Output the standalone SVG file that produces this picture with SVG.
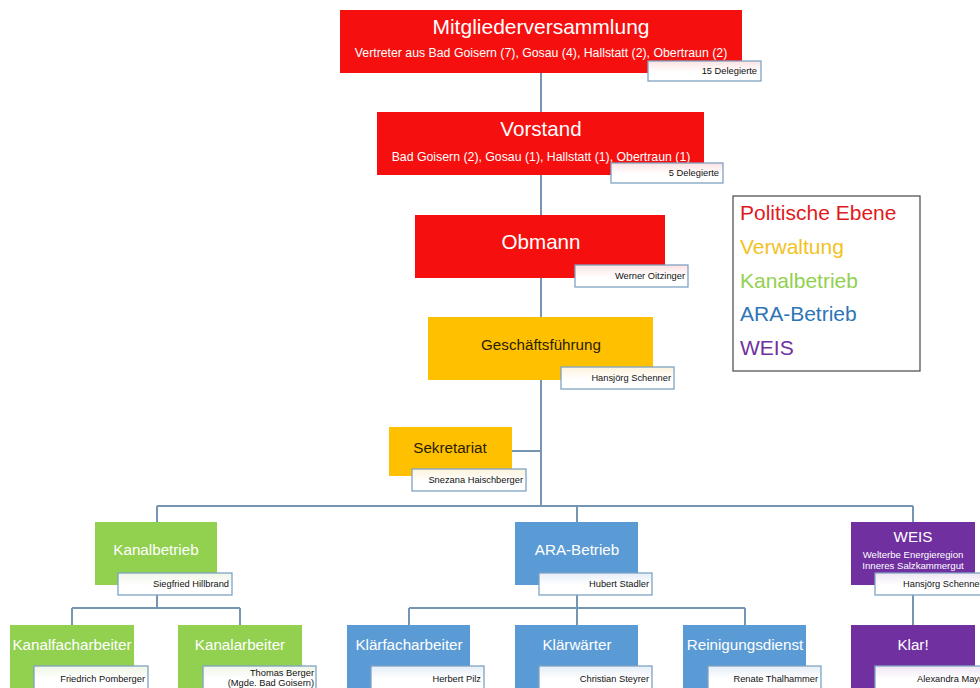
<svg xmlns="http://www.w3.org/2000/svg" width="980" height="688" viewBox="0 0 980 688">
<defs>
<linearGradient id="gR" x1="0" y1="0" x2="0" y2="1"><stop offset="0" stop-color="#fde2e2"/><stop offset="0.55" stop-color="#fff"/></linearGradient>
<linearGradient id="gY" x1="0" y1="0" x2="0" y2="1"><stop offset="0" stop-color="#fdf3dc"/><stop offset="0.55" stop-color="#fff"/></linearGradient>
<linearGradient id="gG" x1="0" y1="0" x2="0" y2="1"><stop offset="0" stop-color="#eef6e6"/><stop offset="0.55" stop-color="#fff"/></linearGradient>
<linearGradient id="gB" x1="0" y1="0" x2="0" y2="1"><stop offset="0" stop-color="#e6eef8"/><stop offset="0.55" stop-color="#fff"/></linearGradient>
<linearGradient id="gP" x1="0" y1="0" x2="0" y2="1"><stop offset="0" stop-color="#eee6f3"/><stop offset="0.55" stop-color="#fff"/></linearGradient>
</defs>
<style>
text{font-family:"Liberation Sans",Arial,sans-serif}
.red{fill:#f50f0f}
.yel{fill:#ffc000}
.grn{fill:#92d050}
.blu{fill:#5b9bd5}
.pur{fill:#7030a0}
.lbl{stroke:#7fa3c3;stroke-width:1.3}
.lt{font-size:9.3px;fill:#111;text-anchor:end}
.t{fill:#fff;text-anchor:middle}
.big{font-size:20.6px}
.mid{font-size:15.2px}
.sub{font-size:12.3px}
.conn{stroke:#7496b4;stroke-width:2;fill:none}
.leg{font-size:21px}
</style>
<rect width="980" height="688" fill="#fff"/>
<g id="connectors">
<path class="conn" d="M541 73V112M541 175V215M541 278V317M541 380V506M512 451H541M157 506H913M157 506V522M577 506V522M913 506V522"/>
<path class="conn" d="M157 595V608M72 608H240M72 608V625M240 608V625"/>
<path class="conn" d="M577 595V608M409 608H745M409 608V625M577 608V625M745 608V625"/>
<path class="conn" d="M913 595V625"/>
</g>
<g id="mitgliederversammlung">
<rect class="red" x="340" y="10" width="402" height="63"/>
<text class="t" x="541" y="34" style="font-size:21px">Mitgliederversammlung</text>
<text class="t sub" x="541" y="57">Vertreter aus Bad Goisern (7), Gosau (4), Hallstatt (2), Obertraun (2)</text>
<rect class="lbl" x="648" y="61" width="113" height="20" fill="url(#gR)"/>
<text class="lt" x="757" y="74">15 Delegierte</text>
</g>
<g id="vorstand">
<rect class="red" x="377" y="112" width="327" height="63"/>
<text class="t big" x="541" y="136">Vorstand</text>
<text class="t sub" x="541" y="161">Bad Goisern (2), Gosau (1), Hallstatt (1), Obertraun (1)</text>
<rect class="lbl" x="611" y="163" width="112" height="20" fill="url(#gR)"/>
<text class="lt" x="719" y="176">5 Delegierte</text>
</g>
<g id="obmann">
<rect class="red" x="415" y="215" width="250" height="63"/>
<text class="t big" x="541" y="249">Obmann</text>
<rect class="lbl" x="575" y="265" width="113" height="22" fill="url(#gR)"/>
<text class="lt" x="685" y="279">Werner Oitzinger</text>
</g>
<g id="geschaeftsfuehrung">
<rect class="yel" x="428" y="317" width="225" height="63"/>
<text x="541" y="350" class="mid" text-anchor="middle" fill="#2a2000">Geschäftsführung</text>
<rect class="lbl" x="561" y="367" width="113" height="22" fill="url(#gY)"/>
<text class="lt" x="671" y="381">Hansjörg Schenner</text>
</g>
<g id="sekretariat">
<rect class="yel" x="389" y="427" width="123" height="49"/>
<text x="450" y="453" class="mid" text-anchor="middle" fill="#2a2000">Sekretariat</text>
<rect class="lbl" x="412" y="469" width="114" height="22" fill="url(#gY)"/>
<text class="lt" x="523" y="483">Snezana Haischberger</text>
</g>
<g id="kanalbetrieb">
<rect class="grn" x="95" y="522" width="122" height="63"/>
<text class="t mid" x="156" y="555">Kanalbetrieb</text>
<rect class="lbl" x="118" y="573" width="114" height="22" fill="url(#gG)"/>
<text class="lt" x="229" y="587">Siegfried Hillbrand</text>
</g>
<g id="kanalfacharbeiter">
<rect class="grn" x="10" y="625" width="124" height="63"/>
<text class="t mid" x="72" y="650">Kanalfacharbeiter</text>
<rect class="lbl" x="34" y="666" width="114" height="24" fill="url(#gG)"/>
<text class="lt" x="145" y="682">Friedrich Pomberger</text>
</g>
<g id="kanalarbeiter">
<rect class="grn" x="178" y="625" width="124" height="63"/>
<text class="t mid" x="240" y="650">Kanalarbeiter</text>
<rect class="lbl" x="203" y="666" width="113" height="24" fill="url(#gG)"/>
<text class="lt" x="314" y="676">Thomas Berger</text>
<text class="lt" x="314" y="686">(Mgde. Bad Goisern)</text>
</g>
<g id="ara-betrieb">
<rect class="blu" x="515" y="522" width="123" height="63"/>
<text class="t mid" x="577" y="555">ARA-Betrieb</text>
<rect class="lbl" x="539" y="573" width="113" height="22" fill="url(#gB)"/>
<text class="lt" x="649" y="587">Hubert Stadler</text>
</g>
<g id="klaerfacharbeiter">
<rect class="blu" x="347" y="625" width="123" height="63"/>
<text class="t mid" x="409" y="650">Klärfacharbeiter</text>
<rect class="lbl" x="371" y="666" width="113" height="24" fill="url(#gB)"/>
<text class="lt" x="481" y="682">Herbert Pilz</text>
</g>
<g id="klaerwaerter">
<rect class="blu" x="515" y="625" width="123" height="63"/>
<text class="t mid" x="577" y="650">Klärwärter</text>
<rect class="lbl" x="539" y="666" width="113" height="24" fill="url(#gB)"/>
<text class="lt" x="649" y="682">Christian Steyrer</text>
</g>
<g id="reinigungsdienst">
<rect class="blu" x="683" y="625" width="123" height="63"/>
<text class="t mid" x="745" y="650">Reinigungsdienst</text>
<rect class="lbl" x="708" y="666" width="113" height="24" fill="url(#gB)"/>
<text class="lt" x="818" y="682">Renate Thalhammer</text>
</g>
<g id="weis">
<rect class="pur" x="851" y="522" width="124" height="63"/>
<text class="t mid" x="913" y="542">WEIS</text>
<text class="t" x="913" y="558" style="font-size:9.6px">Welterbe Energieregion</text>
<text class="t" x="913" y="569" style="font-size:9.6px">Inneres Salzkammergut</text>
<rect class="lbl" x="875" y="573" width="115" height="22" fill="url(#gP)"/>
<text x="903" y="587" style="font-size:9.3px" fill="#111">Hansjörg Schenner</text>
</g>
<g id="klar">
<rect class="pur" x="851" y="625" width="124" height="63"/>
<text class="t mid" x="913" y="650">Klar!</text>
<rect class="lbl" x="875" y="666" width="115" height="24" fill="url(#gP)"/>
<text x="917" y="682" style="font-size:9.3px" fill="#111">Alexandra Mayr</text>
</g>
<g id="legende">
<rect x="733" y="196" width="187" height="175" fill="#fff" stroke="#555" stroke-width="1.3"/>
<text class="leg" x="740" y="220" fill="#e01a22">Politische Ebene</text>
<text class="leg" x="740" y="254" fill="#f2c21f">Verwaltung</text>
<text class="leg" x="740" y="288" fill="#92d050">Kanalbetrieb</text>
<text class="leg" x="740" y="321" fill="#2e75b6">ARA-Betrieb</text>
<text class="leg" x="740" y="355" fill="#7030a0">WEIS</text>
</g>
</svg>
